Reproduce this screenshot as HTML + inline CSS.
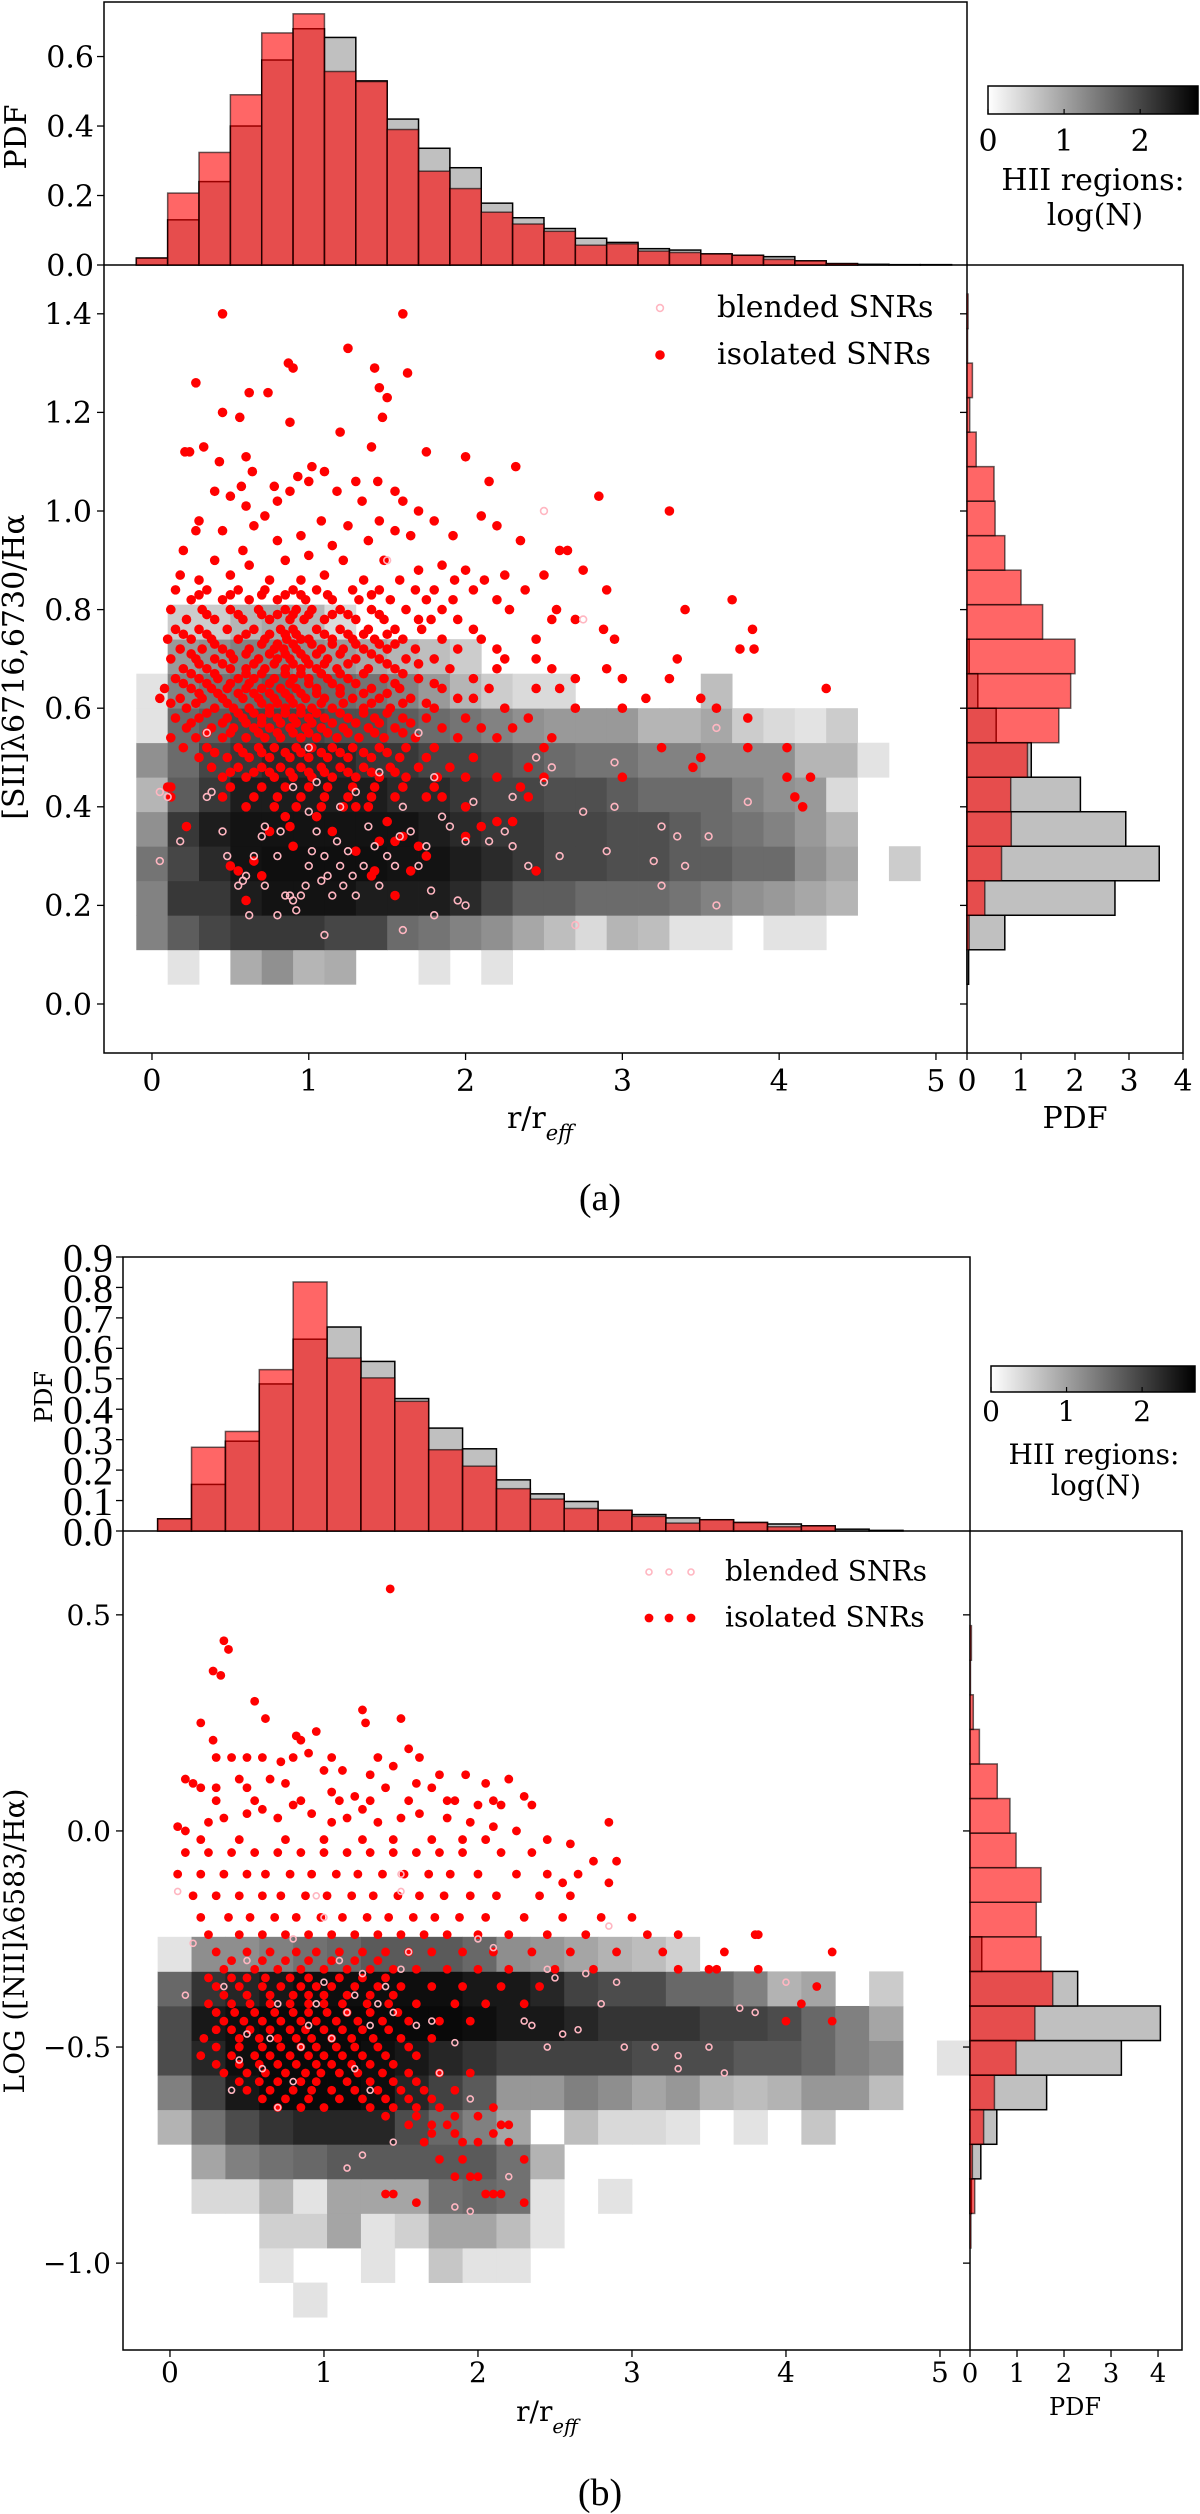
<!DOCTYPE html>
<html><head><meta charset="utf-8"><title>SNR line ratios vs radius</title>
<style>
html,body{margin:0;padding:0;background:#fff;}
svg{display:block;}
text{font-family:"DejaVu Serif","Liberation Serif",serif;fill:#000;}
</style></head>
<body>
<svg id="fig" xmlns="http://www.w3.org/2000/svg" width="1200" height="2514" viewBox="0 0 1200 2514">
<defs>
<linearGradient id="cmap" x1="0" x2="1" y1="0" y2="0"><stop offset="0" stop-color="#fff"/><stop offset="1" stop-color="#000"/></linearGradient>
</defs>
</svg>
<script>
// ===== Panel (a) data =====
const topBinStartA = -0.1, topBinWA = 0.2;
const redTopA = [0.02,0.207,0.324,0.49,0.668,0.723,0.557,0.528,0.39,0.27,0.22,0.152,0.118,0.097,0.057,0.061,0.04,0.036,0.032,0.028,0.016,0.012,0.004,0,0,0];
const grayTopA = [0.02,0.13,0.24,0.40,0.59,0.68,0.655,0.53,0.42,0.336,0.28,0.178,0.136,0.105,0.077,0.065,0.047,0.043,0.032,0.028,0.024,0.012,0.004,0.002,0.001,0.001];
const yBinStartA = 0.04, yBinHA = 0.07;
const redRightA = [0,0.04,0.33,0.64,0.82,0.81,1.12,1.7,1.92,2.0,1.4,1.0,0.7,0.52,0.5,0.17,0.05,0.1,0.01,0.02];
const grayRightA = [0.03,0.7,2.74,3.56,2.94,2.1,1.19,0.54,0.2,0.04];
const heatA = [
 [null,0.3,null,0.9,1.2,0.8,0.9,null,null,0.3,null,0.3],
 [1.35,1.75,2.0,2.15,2.15,2.15,2.0,2.0,1.6,1.5,1.35,1.2,0.95,0.7,0.4,0.8,0.7,0.3,0.3,null,0.3,0.3],
 [1.35,2.15,2.15,2.45,2.55,2.55,2.55,2.45,2.45,2.45,2.3,2.0,1.75,1.75,1.6,1.6,1.6,1.5,1.35,1.2,1.1,0.95,0.8],
 [1.5,2.0,2.3,2.55,2.6,2.6,2.6,2.6,2.55,2.55,2.45,2.3,2.15,2.0,2.0,1.9,1.9,1.75,1.75,1.6,1.6,1.2,0.95,null,0.55],
 [1.2,2.15,2.45,2.55,2.55,2.55,2.55,2.55,2.55,2.45,2.3,2.15,2.15,2.0,2.0,1.9,1.9,1.75,1.6,1.5,1.35,1.1,0.8],
 [0.8,1.75,2.15,2.45,2.45,2.45,2.45,2.45,2.3,2.3,2.15,2.0,2.0,1.9,1.9,1.75,1.6,1.6,1.6,1.35,1.2,1.1,0.4],
 [1.2,1.6,2.0,2.15,2.3,2.3,2.3,2.15,2.15,2.0,2.0,1.9,1.75,1.6,1.5,1.5,1.35,1.35,1.2,1.2,1.2,0.8,0.8,0.3],
 [0.3,1.6,1.75,2.0,2.0,2.0,1.9,1.9,1.75,1.6,1.5,1.35,1.2,1.1,1.1,1.1,0.8,0.8,0.95,0.55,0.4,0.3,0.55],
 [0.3,1.35,1.5,1.6,1.75,1.6,1.6,1.5,1.35,1.1,0.8,0.55,0.4,0.4,null,null,null,null,0.7],
 [null,1.1,1.2,1.35,1.35,1.2,1.1,0.95,0.8,0.7,0.55],
 [null,0.55,0.55,0.8,0.95,0.8,0.4]
];
const isoARows = [
 [0.84,[0.15,0.35,0.55,0.72,0.90,1.05,1.28,1.45,1.68,1.80,2.05,2.38,2.90]],
 [0.83,[0.3,0.5,0.7,0.85,0.95,1.12,1.4]],
 [0.82,[0.25,0.45,0.62,0.80,0.98,1.15,1.32,1.52,1.75,1.92,2.20,3.70]],
 [0.80,[0.12,0.32,0.50,0.68,0.85,0.92,1.02,1.20,1.40,1.62,1.85,2.28,2.58,3.40]],
 [0.79,[0.35,0.55,0.7,0.8,0.9,1.0,1.15,1.25,1.45]],
 [0.78,[0.22,0.40,0.58,0.75,0.88,0.97,1.10,1.30,1.48,1.70,1.78,1.95,2.70,2.55]],
 [0.76,[0.15,0.30,0.48,0.65,0.82,0.90,1.05,1.20,1.38,1.55,1.72,2.05,2.88,3.83]],
 [0.75,[0.2,0.35,0.6,0.75,0.85,0.92,1.1,1.25,1.35,1.5]],
 [0.74,[0.10,0.25,0.38,0.55,0.72,0.86,0.95,1.00,1.15,1.28,1.42,1.60,1.85,2.10,2.45,2.95]],
 [0.73,[0.4,0.7,0.8,0.9,1.02,1.15,1.3,1.45,1.55]],
 [0.72,[0.18,0.32,0.45,0.62,0.78,0.84,0.92,1.08,1.22,1.35,1.50,1.68,1.95,2.20,3.84,3.75]],
 [0.71,[0.25,0.5,0.6,0.75,0.85,0.95,1.05,1.2,1.4]],
 [0.70,[0.12,0.28,0.40,0.52,0.68,0.80,0.88,0.98,1.12,1.30,1.45,1.62,1.80,2.25,2.45,3.35]],
 [0.69,[0.3,0.45,0.65,0.78,0.9,1.0,1.1,1.25,1.5,1.7]],
 [0.68,[0.20,0.35,0.50,0.60,0.72,0.85,0.95,1.05,1.18,1.38,1.55,1.90,2.55,2.90,2.20]],
 [0.67,[0.25,0.4,0.6,0.7,0.85,0.95,1.08,1.2,1.35,1.6]],
 [0.66,[0.15,0.30,0.42,0.55,0.65,0.78,0.90,1.00,1.12,1.25,1.48,1.70,2.05,3.30,2.70,3.00]],
 [0.65,[0.2,0.35,0.5,0.62,0.75,0.88,1.0,1.15,1.3,1.55,1.8]],
 [0.64,[0.08,0.25,0.38,0.48,0.60,0.70,0.82,0.92,1.05,1.20,1.40,1.58,1.85,2.15,2.45,4.30,2.60]],
 [0.63,[0.3,0.42,0.55,0.65,0.75,0.85,0.95,1.05,1.2,1.35,1.5]],
 [0.62,[0.05,0.18,0.32,0.45,0.58,0.68,0.78,0.88,0.98,1.10,1.28,1.45,1.65,1.95,3.15,3.50,2.05]],
 [0.61,[0.12,0.28,0.48,0.7,0.8,0.9,1.08,1.22,1.4,1.6,1.75]],
 [0.60,[0.22,0.40,0.52,0.62,0.75,0.85,0.95,1.02,1.15,1.35,1.52,1.80,2.25,3.00,3.60,2.70]],
 [0.59,[0.35,0.55,0.65,0.75,0.85,0.95,1.05,1.2,1.35,1.5]],
 [0.58,[0.15,0.30,0.48,0.58,0.70,0.80,0.90,1.00,1.10,1.25,1.42,1.60,1.75,2.00,2.40,3.80]],
 [0.57,[0.25,0.45,0.6,0.7,0.82,0.92,1.02,1.15,1.3,1.45,1.65]],
 [0.56,[0.22,0.38,0.52,0.65,0.75,0.88,0.98,1.08,1.22,1.38,1.55,1.85,2.10,2.30]],
 [0.55,[0.35,0.5,0.68,0.8,0.9,1.0,1.12,1.25,1.42,1.6]],
 [0.54,[0.12,0.28,0.45,0.60,0.72,0.82,0.95,1.05,1.18,1.32,1.48,1.68,1.95,2.20,2.55]],
 [0.52,[0.20,0.35,0.55,0.68,0.78,0.92,1.02,1.15,1.28,1.45,1.62,1.80,2.50,3.25,3.80,4.05]],
 [0.51,[0.4,0.58,0.7,0.85,0.95,1.08,1.2,1.35,1.5]],
 [0.50,[0.30,0.48,0.62,0.75,0.88,1.00,1.12,1.25,1.40,1.58,1.75,2.05,3.50]],
 [0.48,[0.38,0.55,0.70,0.82,0.95,1.08,1.20,1.35,1.52,1.70,1.90,2.40,3.45]],
 [0.47,[0.5,0.65,0.75,0.88,1.0,1.1,1.25,1.4,1.55]],
 [0.46,[0.45,0.60,0.78,0.90,1.02,1.15,1.30,1.45,1.62,1.82,2.00,2.20,2.50,3.00,4.05,4.20]],
 [0.44,[0.12,0.50,0.70,0.85,1.00,1.12,1.28,1.42,1.60,1.80,2.35]],
 [0.42,[0.12,0.45,0.65,0.80,0.95,1.10,1.25,1.40,1.55,1.75,2.40,4.10]],
 [0.40,[0.60,0.78,0.92,1.08,1.22,1.38,2.00,4.15]]
];
const isoAExtra = [[0.45,1.40],[1.60,1.40],[1.25,1.33],[0.87,1.30],[0.90,1.29],[1.42,1.29],[1.63,1.28],[0.28,1.26],[1.45,1.25],[0.62,1.24],[0.74,1.24],[1.50,1.23],[1.47,1.19],[0.45,1.20],[0.56,1.19],[0.88,1.18],[1.20,1.16],[1.75,1.12],[0.33,1.13],[0.21,1.12],[0.24,1.12],[1.40,1.13],[0.43,1.10],[0.60,1.11],[2.00,1.11],[0.64,1.08],[2.32,1.09],[1.02,1.09],[1.10,1.08],[0.93,1.07],[0.50,1.03],[1.00,1.06],[0.80,1.02],[1.30,1.06],[1.44,1.06],[1.55,1.04],[0.57,1.05],[0.40,1.04],[0.60,1.01],[0.78,1.05],[1.18,1.04],[0.88,1.04],[1.34,1.02],[1.60,1.02],[1.70,1.00],[2.15,1.06],[2.85,1.03],[3.30,1.00],[2.10,0.99],[2.20,0.97],[0.30,0.98],[0.45,0.96],[0.65,0.97],[0.72,0.99],[1.08,0.98],[1.25,0.97],[1.45,0.98],[1.55,0.96],[1.80,0.98],[0.28,0.96],[0.58,0.92],[0.80,0.94],[0.95,0.95],[1.15,0.93],[1.38,0.94],[1.65,0.95],[1.92,0.95],[2.35,0.94],[2.60,0.92],[2.65,0.92],[0.20,0.92],[0.40,0.90],[0.62,0.89],[0.85,0.90],[1.00,0.91],[1.22,0.90],[1.48,0.90],[1.70,0.88],[1.85,0.89],[2.00,0.88],[2.75,0.88],[2.25,0.87],[2.50,0.87],[0.50,0.87],[0.75,0.86],[1.10,0.87],[1.35,0.86],[1.58,0.86],[0.18,0.87],[0.30,0.86],[0.95,0.86],[1.93,0.86],[2.12,0.86],
 [0.22,0.36],[0.50,0.28],[0.55,0.27],[0.60,0.21],[0.88,0.36],[0.65,0.29],[0.75,0.35],[0.90,0.32],[1.05,0.38],[1.15,0.35],[1.30,0.40],[1.40,0.26],[1.50,0.37],[1.55,0.22],[1.60,0.34],[1.70,0.32],[1.55,0.33],[1.85,0.42],[2.10,0.36],[2.20,0.37],[2.30,0.37],[2.45,0.27],[2.00,0.34],[1.42,0.27],[1.75,0.30],[1.65,0.27],[0.70,0.26],[1.30,0.31],[1.45,0.33],[0.85,0.38],[0.10,0.44]];
const blendA = [[0.05,0.43],[0.05,0.29],[0.10,0.42],[0.18,0.33],[0.38,0.43],[0.35,0.42],[0.45,0.35],[0.48,0.30],[0.55,0.24],[0.58,0.25],[0.60,0.26],[0.65,0.30],[0.62,0.18],[0.70,0.34],[0.72,0.36],[0.80,0.30],[0.82,0.35],[0.85,0.22],[0.88,0.22],[0.90,0.21],[0.92,0.19],[0.95,0.22],[0.98,0.24],[1.00,0.28],[1.02,0.31],[1.05,0.35],[1.08,0.25],[1.10,0.30],[1.12,0.26],[1.15,0.22],[1.18,0.33],[1.20,0.28],[1.22,0.24],[1.25,0.31],[1.28,0.26],[1.30,0.22],[1.35,0.28],[1.38,0.36],[1.42,0.32],[1.45,0.24],[1.50,0.30],[1.55,0.28],[1.58,0.34],[1.60,0.40],[1.65,0.35],[1.70,0.28],[1.75,0.32],[1.78,0.23],[1.80,0.18],[1.85,0.38],[1.90,0.36],[2.00,0.33],[2.05,0.41],[2.15,0.33],[2.25,0.35],[2.30,0.32],[2.40,0.28],[2.50,0.45],[2.55,0.48],[2.60,0.30],[2.90,0.31],[2.95,0.40],[3.25,0.36],[3.25,0.24],[3.35,0.34],[3.40,0.28],[3.55,0.34],[3.60,0.20],[3.80,0.41],[3.20,0.29],[2.75,0.39],[1.10,0.14],[1.60,0.15],[1.95,0.21],[1.05,0.45],[0.90,0.44],[1.30,0.43],[1.45,0.47],[2.45,0.50],[2.95,0.49],[2.50,1.00],[1.50,0.90],[0.35,0.55],[1.00,0.52],[1.70,0.55],[1.80,0.46],[3.60,0.56],[2.75,0.78],[2.30,0.42],[1.20,0.40],[0.72,0.24],[1.00,0.39],[0.80,0.18],[2.00,0.20],[2.70,0.16]];
const xTicksA = [0,1,2,3,4,5];
const yTicksA = [0.0,0.2,0.4,0.6,0.8,1.0,1.2,1.4];
const topTicksA = [0.0,0.2,0.4,0.6];
const rightTicksA = [0,1,2,3,4];

// ===== Panel (b) data =====
const topBinStartB = -0.08, topBinWB = 0.22;
const redTopB = [0.04,0.275,0.327,0.53,0.818,0.568,0.503,0.426,0.267,0.213,0.139,0.105,0.074,0.068,0.048,0.026,0.037,0.028,0.014,0.017,0,0];
const grayTopB = [0.04,0.153,0.295,0.483,0.63,0.67,0.557,0.435,0.338,0.27,0.168,0.122,0.097,0.068,0.054,0.043,0.037,0.028,0.023,0.017,0.006,0.002];
const yBinStartB = -1.125, yBinHB = 0.08;
const redRightB = [0,0,0.02,0.1,0.05,0.29,0.52,0.98,1.38,1.76,1.51,1.41,1.51,0.98,0.85,0.58,0.2,0.07,0.01,0.03];
const grayRightB = [0,0,0,0.03,0.23,0.57,1.63,3.22,4.05,2.29,0.25];
const heatB = [
 [null,null,null,null,0.3],
 [null,null,null,0.3,null,null,0.3,null,0.6,0.3,0.3],
 [null,null,null,0.5,0.5,0.95,0.3,0.5,0.95,0.95,0.7,0.3],
 [null,0.4,0.4,0.8,0.3,0.95,0.95,0.95,1.5,1.6,1.5,0.3,null,0.3],
 [null,0.95,1.35,1.5,1.6,1.75,1.75,1.75,1.75,1.75,1.5,0.8],
 [0.8,1.5,1.9,2.15,2.3,2.3,2.3,1.9,1.6,1.35,0.95,null,0.7,0.4,0.4,0.3,null,0.3,null,0.6],
 [1.35,2.0,2.45,2.6,2.6,2.6,2.55,2.3,2.0,1.75,1.1,1.1,1.35,1.2,0.95,1.1,0.8,0.7,0.8,1.1,1.1,0.7],
 [1.9,2.3,2.55,2.6,2.6,2.6,2.55,2.45,2.3,2.15,2.0,2.0,2.0,2.0,1.9,1.9,1.9,1.75,1.75,1.6,1.35,1.2,null,0.3],
 [1.9,2.45,2.55,2.6,2.6,2.6,2.6,2.6,2.6,2.55,2.45,2.45,2.3,2.15,2.15,2.15,2.0,2.0,1.9,1.6,1.35,0.95],
 [1.6,2.15,2.3,2.45,2.55,2.55,2.55,2.55,2.55,2.45,2.45,2.3,2.0,1.9,1.9,1.6,1.6,1.35,0.8,0.95,null,0.55],
 [0.3,1.2,1.2,1.35,1.5,1.6,1.75,1.75,1.75,1.6,1.2,1.1,0.95,0.8,0.7,0.5]
];
const isoBRows = [
 [0.17,[0.3,0.5,0.8,1.05,1.35]],
 [0.07,[0.3,0.55,0.85,1.1,1.3,1.55,1.8,2.1]],
 [-0.02,[0.2,0.45,0.75,1.0,1.25,1.45,1.7,1.9]],
 [-0.05,[0.1,0.25,0.4,0.55,0.7,0.85,1.0,1.15,1.3,1.45,1.6,1.75,1.9,2.15,2.35]],
 [-0.10,[0.05,0.2,0.35,0.5,0.62,0.78,0.92,1.08,1.22,1.38,1.52,1.68,1.82,2.0,2.25,2.45]],
 [-0.15,[0.15,0.3,0.45,0.6,0.72,0.88,1.02,1.18,1.32,1.48,1.62,1.78,1.95,2.12,2.4,2.6]],
 [-0.20,[0.2,0.38,0.52,0.68,0.82,0.98,1.12,1.28,1.42,1.58,1.72,1.88,2.05,2.3,2.55,2.8,3.0]],
 [-0.24,[0.25,0.45,0.6,0.75,0.9,1.05,1.2,1.35,1.5,1.65,1.8,2.0,2.2,2.45,2.7,3.1,3.3,3.8,3.82]],
 [-0.28,[0.3,0.5,0.65,0.82,0.95,1.1,1.25,1.4,1.55,1.7,1.9,2.1,2.35,2.6,2.9,3.2,3.6,4.3]],
 [-0.30,[0.4,0.6,0.75,0.9,1.05,1.2,1.35]],
 [-0.32,[0.35,0.55,0.7,0.85,1.0,1.15,1.3,1.45,1.6,1.8,2.0,2.2,2.5,2.75,3.3,3.5,3.55,3.82]],
 [-0.34,[0.25,0.4,0.5,0.62,0.78,0.9,1.1,1.25,1.4]],
 [-0.36,[0.3,0.45,0.6,0.72,0.85,0.95,1.05,1.2,1.35,1.5,1.7,1.9,2.15,2.4,4.2]],
 [-0.38,[0.35,0.5,0.65,0.8,0.9,1.0,1.15,1.3,1.45]],
 [-0.40,[0.25,0.4,0.52,0.65,0.78,0.9,1.0,1.12,1.28,1.42,1.6,1.85,2.05,2.3,4.1]],
 [-0.42,[0.3,0.42,0.55,0.68,0.8,0.9,1.02,1.15,1.3,1.48]],
 [-0.44,[0.35,0.48,0.6,0.72,0.85,0.95,1.08,1.22,1.38,1.55,1.75,1.95,4.0,4.3]],
 [-0.46,[0.3,0.4,0.52,0.65,0.78,0.88,1.0,1.12,1.25,1.42]],
 [-0.48,[0.22,0.45,0.58,0.7,0.82,0.92,1.05,1.18,1.32,1.5,1.7]],
 [-0.50,[0.3,0.45,0.6,0.72,0.85,0.95,1.08,1.2,1.35,1.55]],
 [-0.52,[0.2,0.4,0.55,0.65,0.78,0.9,1.0,1.12,1.25,1.4,1.6]],
 [-0.54,[0.3,0.45,0.58,0.7,0.82,0.95,1.05,1.18,1.3,1.45]],
 [-0.56,[0.35,0.5,0.62,0.75,0.88,0.98,1.1,1.22,1.38,1.55,1.75,1.95]],
 [-0.58,[0.45,0.58,0.7,0.85,0.95,1.15,1.3,1.45,1.6]],
 [-0.60,[0.5,0.65,0.8,0.92,1.05,1.2,1.35,1.5,1.65,1.85]],
 [-0.62,[0.6,0.75,0.9,1.1,1.25,1.4,1.55,1.7]],
 [-0.64,[0.7,0.85,1.0,1.3,1.45,1.6,1.75,2.1]],
 [-0.66,[1.4,1.6,1.85,2.0]],
 [-0.68,[1.55,1.7,1.8,2.15,2.2]],
 [-0.70,[1.7,1.85,2.1]],
 [-0.72,[1.65,1.9,2.0,2.2]],
 [-0.76,[1.75,1.9,2.3]],
 [-0.80,[1.85,1.95,2.0]],
 [-0.84,[1.4,1.45,2.05,2.1,2.15]],
 [-0.86,[1.6,2.3]]
];
const isoBExtra = [[1.43,0.56],[0.35,0.44],[0.38,0.42],[0.28,0.37],[0.33,0.36],[1.25,0.28],[1.5,0.26],[0.55,0.3],[0.62,0.26],[1.27,0.25],[0.2,0.25],[0.95,0.23],[0.82,0.22],[0.85,0.21],[1.55,0.19],[0.28,0.21],[1.62,0.17],[0.6,0.17],[0.72,0.16],[0.4,0.17],[0.9,0.18],[1.0,0.14],[1.12,0.14],[1.3,0.13],[1.45,0.15],[1.75,0.13],[1.92,0.13],[2.2,0.12],[2.3,0.08],[2.05,0.11],[0.1,0.12],[0.15,0.11],[0.2,0.1],[0.3,0.1],[0.45,0.12],[0.5,0.1],[0.65,0.12],[0.75,0.11],[1.05,0.09],[1.2,0.08],[1.4,0.1],[1.6,0.11],[1.7,0.1],[1.85,0.07],[2.0,0.06],[2.15,0.06],[2.35,0.06],[2.85,0.02],[0.05,0.01],[0.1,0.0],[0.25,0.02],[0.35,0.03],[0.5,0.04],[0.6,0.05],[0.7,0.03],[0.8,0.06],[0.92,0.04],[1.05,0.02],[1.15,0.03],[1.25,0.05],[1.35,0.02],[1.5,0.03],[1.62,0.04],[1.8,0.03],[1.95,0.02],[2.1,0.01],[2.25,0.0],[2.45,-0.02],[2.05,-0.02],[2.6,-0.03],[2.75,-0.07],[2.9,-0.07],[2.65,-0.1],[2.55,-0.12],[2.85,-0.12]];
const blendB = [[0.05,-0.14],[0.1,-0.38],[0.15,-0.26],[0.35,-0.36],[0.4,-0.6],[0.45,-0.53],[0.5,-0.47],[0.6,-0.55],[0.7,-0.64],[0.8,-0.58],[0.85,-0.5],[0.9,-0.45],[0.95,-0.4],[1.0,-0.35],[1.05,-0.48],[1.1,-0.3],[1.15,-0.42],[1.2,-0.38],[1.25,-0.33],[1.3,-0.45],[1.35,-0.4],[1.4,-0.36],[1.45,-0.42],[1.5,-0.32],[1.55,-0.28],[1.6,-0.45],[1.7,-0.44],[1.75,-0.56],[1.85,-0.49],[1.95,-0.62],[2.3,-0.44],[2.35,-0.45],[2.45,-0.5],[2.55,-0.47],[2.65,-0.46],[2.8,-0.4],[2.95,-0.5],[3.15,-0.5],[3.3,-0.52],[3.5,-0.5],[3.6,-0.56],[3.8,-0.42],[4.0,-0.35],[3.3,-0.55],[1.25,-0.75],[1.15,-0.78],[1.45,-0.72],[1.85,-0.87],[1.95,-0.88],[2.2,-0.8],[2.45,-0.32],[2.5,-0.34],[2.0,-0.25],[2.1,-0.27],[0.5,-0.3],[0.8,-0.25],[1.0,-0.2],[1.5,-0.1],[1.5,-0.14],[0.95,-0.15],[2.85,-0.22],[2.9,-0.35],[2.7,-0.33],[3.7,-0.41],[1.2,-0.55],[1.3,-0.6],[0.65,-0.48],[0.7,-0.4]];
const xTicksB = [0,1,2,3,4,5];
const yTicksB = [-1.0,-0.5,0.0,0.5];
const topTicksB = [0.0,0.1,0.2,0.3,0.4,0.5,0.6,0.7,0.8,0.9];
const rightTicksB = [0,1,2,3,4];
const cbarTicks = [0,1,2];

// ===== rendering =====
const NS = "http://www.w3.org/2000/svg";
const svg = document.getElementById('fig');
function mk(tag, attrs, parent){const e=document.createElementNS(NS,tag);for(const k in attrs)e.setAttribute(k,attrs[k]);(parent||svg).appendChild(e);return e;}
function lin(d0,d1,r0,r1){return v=>r0+(v-d0)*(r1-r0)/(d1-d0);}
function txt(parent,x,y,s,size,anchor,fam,extra){const t=mk('text',Object.assign({x:x,y:y,'font-size':size,'text-anchor':anchor||'middle'},extra||{}),parent);if(fam)t.setAttribute('style','font-family:'+fam);t.textContent=s;return t;}
function expand(rows, extra){const out=[];rows.forEach(r=>r[1].forEach(x=>out.push([x,r[0]])));return out.concat(extra);}

function panel(P){
  const g = mk('g',{});
  
  
  const sx = lin(P.xd[0],P.xd[1],P.x0,P.x1);
  const sy = lin(P.yd[0],P.yd[1],P.y1,P.y0);
  const ty = lin(0,P.topMax,P.topY1,P.topY0);
  const rx = lin(0,P.rightMax,P.x1,P.rightX1);
  const hg = mk('g',{},g);
  
  
  P.heat.forEach((row,j)=>row.forEach((v,k)=>{
    if(v===null) return;
    const xa=P.xb0+k*P.xbw, ya=P.yb0+j*P.ybh;
    const c=Math.round(255*(1-Math.min(v,P.vmax)/P.vmax));
    const r=mk('rect',{x:sx(xa),y:sy(ya+P.ybh),width:sx(xa+P.xbw)-sx(xa)+0.4,height:sy(ya)-sy(ya+P.ybh)+0.4,fill:`rgb(${c},${c},${c})`},hg);
    
    
  }));
  const sg = mk('g',{},g);
  
  
  P.iso.forEach(p=>{
    const c=mk('circle',{cx:sx(p[0]),cy:sy(p[1]),r:P.rIso,fill:'#ff0000'},sg);
    
    
  });
  P.blend.forEach(p=>{
    const c=mk('circle',{cx:sx(p[0]),cy:sy(p[1]),r:P.rBl,fill:'none',stroke:'#ffb6c1','stroke-width':1.6},sg);
    
    
  });
  const fr=mk('rect',{x:P.x0,y:P.y0,width:P.x1-P.x0,height:P.y1-P.y0,fill:'none',stroke:'#000','stroke-width':1.5},g);
  
  
  P.xTicks.forEach(t=>{
    const x=sx(t);
    mk('line',{x1:x,x2:x,y1:P.y1,y2:P.y1+7,stroke:'#000','stroke-width':1.3},g);
    const l=txt(g,x,P.xTickY,String(t),P.tickSize,'middle',P.tickFam);
    
    
  });
  P.yTicks.forEach(t=>{
    const y=sy(t);
    mk('line',{x1:P.x0-7,x2:P.x0,y1:y,y2:y,stroke:'#000','stroke-width':1.3},g);
    mk('line',{x1:P.x1-7,x2:P.x1,y1:y,y2:y,stroke:'#000','stroke-width':1.3},g);
    const l=txt(g,P.x0-12,y+P.tickSize*0.36,(t<0?'\u2212':'')+Math.abs(t).toFixed(1),P.tickSize,'end',P.tickFam);
    
    
  });
  const tg=mk('g',{},g);
  
  
  P.grayTop.forEach((v,k)=>{ if(!v) return;
    const xa=P.tb0+k*P.tbw;
    const r=mk('rect',{x:sx(xa),y:ty(v),width:sx(xa+P.tbw)-sx(xa),height:ty(0)-ty(v),fill:'#c0c0c0',stroke:'#000','stroke-width':1.5},tg);
    
    
  });
  P.redTop.forEach((v,k)=>{ if(!v) return;
    const xa=P.tb0+k*P.tbw;
    const r=mk('rect',{x:sx(xa),y:ty(v),width:sx(xa+P.tbw)-sx(xa),height:ty(0)-ty(v),fill:'#ff0000','fill-opacity':0.6,stroke:'#000','stroke-opacity':0.6,'stroke-width':1.5},tg);
    
    
  });
  mk('polyline',{points:`${P.x0},${P.topY1} ${P.x0},${P.topY0} ${P.x1},${P.topY0} ${P.x1},${P.topY1}`,fill:'none',stroke:'#000','stroke-width':1.5},g);
  P.topTicks.forEach(t=>{
    const y=ty(t);
    mk('line',{x1:P.x0-7,x2:P.x0,y1:y,y2:y,stroke:'#000','stroke-width':1.3},g);
    const l=txt(g,P.x0-10,y+P.topTickSize*0.36,t.toFixed(1),P.topTickSize,'end',P.topTickFam);
    
    
  });
  const rg=mk('g',{},g);
  
  
  P.grayRight.forEach((v,j)=>{ if(!v) return;
    const ya=P.yb0+j*P.ybh;
    const r=mk('rect',{x:rx(0),y:sy(ya+P.ybh),width:rx(v)-rx(0),height:sy(ya)-sy(ya+P.ybh),fill:'#c0c0c0',stroke:'#000','stroke-width':1.5},rg);
    
    
  });
  P.redRight.forEach((v,j)=>{ if(!v) return;
    const ya=P.yb0+j*P.ybh;
    const r=mk('rect',{x:rx(0),y:sy(ya+P.ybh),width:rx(v)-rx(0),height:sy(ya)-sy(ya+P.ybh),fill:'#ff0000','fill-opacity':0.6,stroke:'#000','stroke-opacity':0.6,'stroke-width':1.5},rg);
    
    
  });
  mk('polyline',{points:`${P.x1},${P.y0} ${P.rightX1},${P.y0} ${P.rightX1},${P.y1} ${P.x1},${P.y1}`,fill:'none',stroke:'#000','stroke-width':1.5},g);
  P.rightTicks.forEach(t=>{
    const x=rx(t);
    mk('line',{x1:x,x2:x,y1:P.y1,y2:P.y1+7,stroke:'#000','stroke-width':1.3},g);
    const l=txt(g,x,P.xTickY,String(t),P.rightTickSize,'middle',P.tickFam);
    
    
  });
  const cb=mk('rect',{x:P.cb[0],y:P.cb[1],width:P.cb[2]-P.cb[0],height:P.cb[3]-P.cb[1],fill:'url(#cmap)',stroke:'#000','stroke-width':1.5},g);
  
  
  const cx=lin(0,P.vmax,P.cb[0],P.cb[2]);
  cbarTicks.forEach(t=>{
    mk('line',{x1:cx(t),x2:cx(t),y1:P.cb[3]-5,y2:P.cb[3],stroke:'#000','stroke-width':1.2},g);
    const l=txt(g,cx(t),P.cbTickY,String(t),P.tickSize,'middle',P.tickFam);
    
    
  });
  const c1=txt(g,P.cbLabX,P.cbLab1Y,'HII regions:',P.labSize,'middle');
  
  
  const c2=txt(g,P.cbLabX+2,P.cbLab2Y,'log(N)',P.labSize,'middle');
  
  
  P.legMarkX.forEach(x=>{
    const a=mk('circle',{cx:x,cy:P.legY[0],r:P.rBl,fill:'none',stroke:'#ffb6c1','stroke-width':1.6},g);
    
    
    const b=mk('circle',{cx:x,cy:P.legY[1],r:P.rIso,fill:'#ff0000'},g);
    
    
  });
  const l1=txt(g,P.legTextX,P.legY[0]+P.labSize*0.3,'blended SNRs',P.labSize,'start');
  
  
  const l2=txt(g,P.legTextX,P.legY[1]+P.labSize*0.3,'isolated SNRs',P.labSize,'start');
  
  
  const xl=txt(g,P.xLab[0],P.xLab[1],'r/r',P.labSize,'middle');
  const sub=mk('tspan',{'baseline-shift':'sub','font-size':P.labSize*0.7,'font-style':'italic'},xl);
  sub.textContent='eff';
  
  
  const yl=txt(g,0,0,P.yLabel,P.labSize,'middle',null,{transform:`translate(${P.yLab[0]},${P.yLab[1]}) rotate(-90)`});
  
  
  const tp=txt(g,0,0,'PDF',P.pdfSize,'middle',null,{transform:`translate(${P.pdfTop[0]},${P.pdfTop[1]}) rotate(-90)`});
  
  
  const rp=txt(g,P.pdfRight[0],P.pdfRight[1],'PDF',P.pdfSize,'middle');
  
  
  const cap=txt(g,600,P.capY,P.caption,38,'middle','"Liberation Serif",serif');
  
  
}

panel({name:'panel-a', x0:104,x1:967,y0:265,y1:1053, xd:[-0.306,5.198], yd:[-0.0994,1.499],
  topY0:2, topY1:265, topMax:0.757, rightX1:1183, rightMax:4,
  xb0:-0.1, xbw:0.2, yb0:yBinStartA, ybh:yBinHA, heat:heatA, vmax:2.76,
  iso:expand(isoARows,isoAExtra), blend:blendA, rIso:4.8, rBl:3.4,
  xTicks:xTicksA, yTicks:yTicksA, topTicks:topTicksA, rightTicks:rightTicksA,
  tb0:topBinStartA, tbw:topBinWA, redTop:redTopA, grayTop:grayTopA, redRight:redRightA, grayRight:grayRightA,
  tickSize:30, tickFam:null, topTickSize:30, topTickFam:null, rightTickSize:30, xTickY:1091,
  cb:[988,86,1198,114], cbTickY:151, cbLabX:1093, cbLab1Y:190, cbLab2Y:225, labSize:30,
  legMarkX:[660], legY:[308,355], legTextX:717,
  xLab:[540,1128], yLabel:'[SII]\u03bb6716,6730/H\u03b1', yLab:[24,667],
  pdfSize:30, pdfTop:[26,137], pdfRight:[1075,1128], capY:1210, caption:'(a)'});

panel({name:'panel-b', x0:123,x1:970,y0:1531,y1:2350, xd:[-0.305,5.195], yd:[-1.201,0.694],
  topY0:1257, topY1:1531, topMax:0.9, rightX1:1182, rightMax:4.51,
  xb0:-0.08, xbw:0.22, yb0:yBinStartB, ybh:yBinHB, heat:heatB, vmax:2.7,
  iso:expand(isoBRows,isoBExtra), blend:blendB, rIso:4.4, rBl:3.0,
  xTicks:xTicksB, yTicks:yTicksB, topTicks:topTicksB, rightTicks:rightTicksB,
  tb0:topBinStartB, tbw:topBinWB, redTop:redTopB, grayTop:grayTopB, redRight:redRightB, grayRight:grayRightB,
  tickSize:28, tickFam:null, topTickSize:40, topTickFam:'"Liberation Serif",serif', rightTickSize:26, xTickY:2382,
  cb:[991,1366,1195,1392], cbTickY:1421, cbLabX:1094, cbLab1Y:1464, cbLab2Y:1495, labSize:28,
  legMarkX:[649,669,691], legY:[1572,1618], legTextX:725,
  xLab:[547,2421], yLabel:'LOG ([NII]\u03bb6583/H\u03b1)', yLab:[24,1941],
  pdfSize:24, pdfTop:[52,1397], pdfRight:[1075,2415], capY:2505, caption:'(b)'});
</script>
</body></html>
